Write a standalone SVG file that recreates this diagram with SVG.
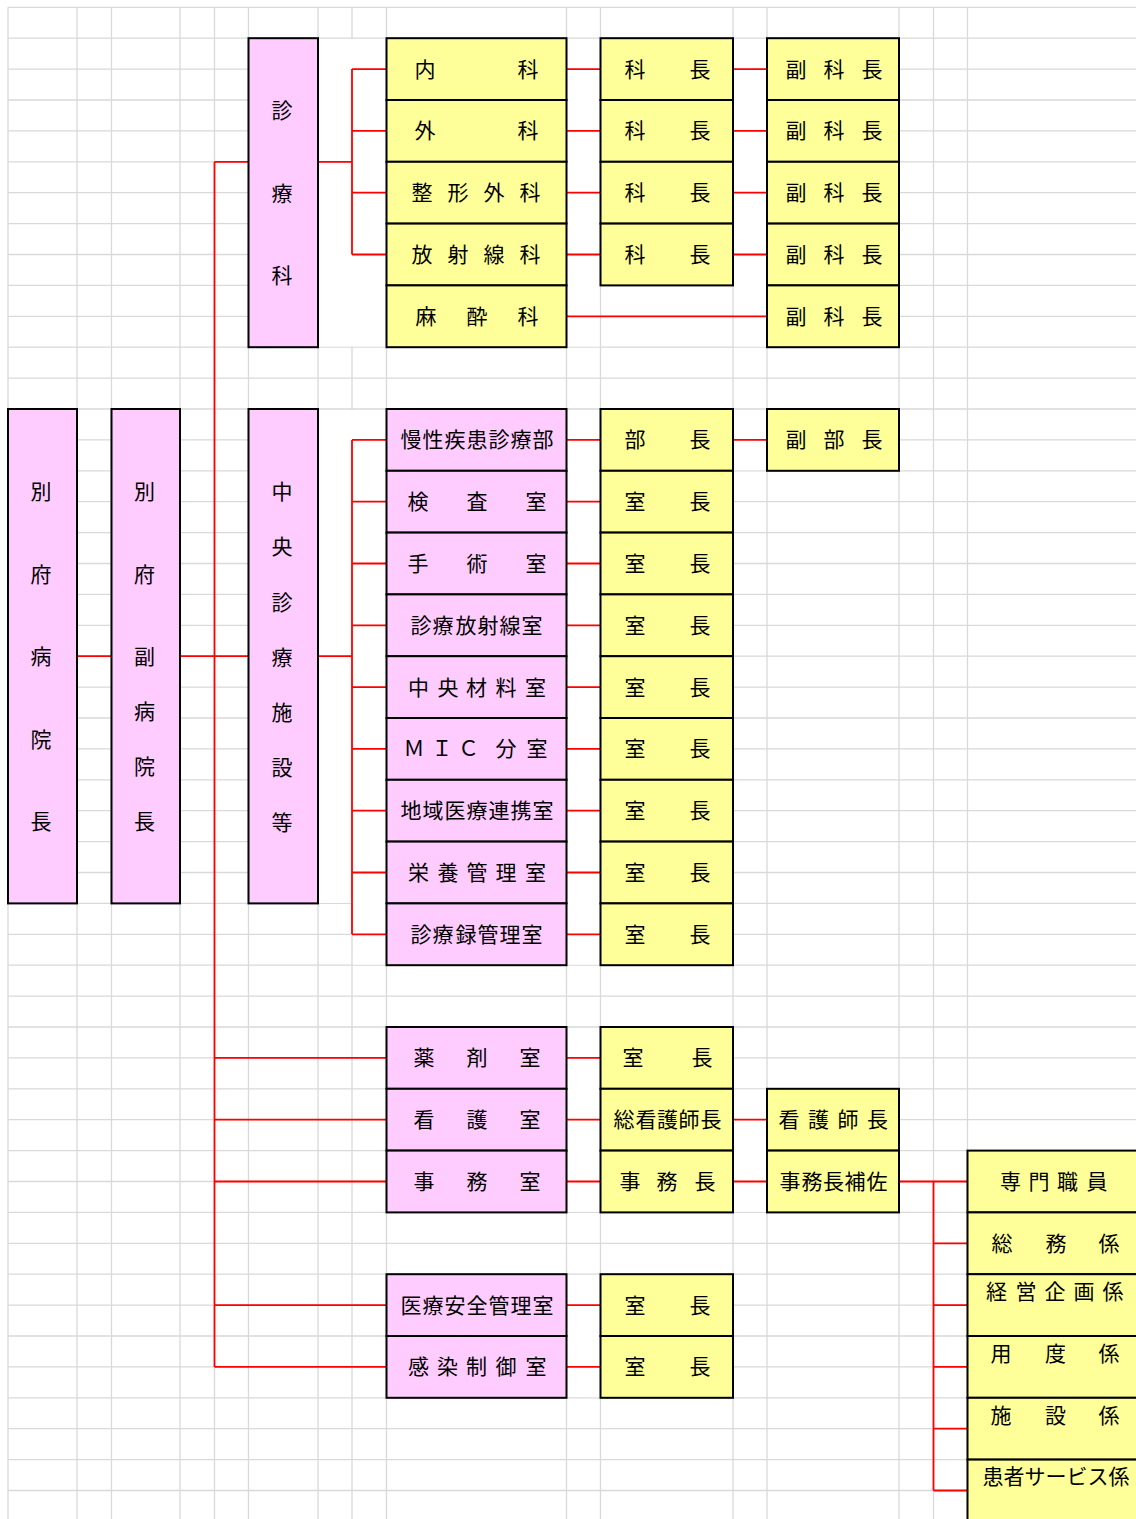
<svg xmlns="http://www.w3.org/2000/svg" width="1136" height="1519" viewBox="0 0 1136 1519">
<style>
.grid{fill:none;stroke:#d9d9d9;stroke-width:1.3}
.wh{fill:#ffffff;stroke:none}
.con{fill:none;stroke:#ff0000;stroke-width:1.8}
.pk{fill:#ffccff;stroke:#000000;stroke-width:2}
.yl{fill:#ffff99;stroke:#000000;stroke-width:2}
text{font-family:"Noto Sans CJK JP","Noto Sans",sans-serif;font-size:21px;fill:#000000;text-anchor:middle}
</style>
<rect x="0" y="0" width="1136" height="1519" fill="#ffffff"/>
<path class="grid" d="M8 7.3H1136M8 38.2H1136M8 69.1H1136M8 100H1136M8 130.9H1136M8 161.8H1136M8 192.7H1136M8 223.6H1136M8 254.5H1136M8 285.4H1136M8 316.3H1136M8 347.2H1136M8 378.1H1136M8 409H1136M8 439.9H1136M8 470.8H1136M8 501.7H1136M8 532.6H1136M8 563.5H1136M8 594.4H1136M8 625.3H1136M8 656.2H1136M8 687.1H1136M8 718H1136M8 748.9H1136M8 779.8H1136M8 810.7H1136M8 841.6H1136M8 872.5H1136M8 903.4H1136M8 934.3H1136M8 965.2H1136M8 996.1H1136M8 1027H1136M8 1057.9H1136M8 1088.8H1136M8 1119.7H1136M8 1150.6H1136M8 1181.5H1136M8 1212.4H1136M8 1243.3H1136M8 1274.2H1136M8 1305.1H1136M8 1336H1136M8 1366.9H1136M8 1397.8H1136M8 1428.7H1136M8 1459.6H1136M8 1490.5H1136M8 7.3V1519M77 7.3V1519M111.5 7.3V1519M180 7.3V1519M214.5 7.3V1519M248.5 7.3V1519M318 7.3V1519M352 7.3V1519M386.5 7.3V1519M566.5 7.3V1519M600.5 7.3V1519M733 7.3V1519M767 7.3V1519M899 7.3V1519M933.5 7.3V1519M967.5 7.3V1519"/>
<g id="blank-cells">
<rect class="wh" x="319" y="39" width="66.5" height="307.5"/>
<rect class="wh" x="567.5" y="39" width="32" height="307.5"/>
<rect class="wh" x="734" y="39" width="32" height="307.5"/>
<rect class="wh" x="319" y="410" width="66.5" height="492.8"/>
<rect class="wh" x="353" y="902" width="32.5" height="62.5"/>
<rect class="wh" x="567.5" y="410" width="32" height="554.5"/>
<rect class="wh" x="734" y="410" width="32" height="60.2"/>
<rect class="wh" x="567.5" y="1028" width="32" height="183.7"/>
<rect class="wh" x="734" y="1089.6" width="32" height="122.1"/>
<rect class="wh" x="567.5" y="1275" width="32" height="122.1"/>
</g>
<g id="connectors">
<path class="con" d="M77 656.2H111.5M180 656.2H248.5M214.5 161.8V1366.9M214.5 161.8H248.5"/>
<path class="con" d="M318 161.8H352M352 69.1V254.5M352 69.1H386.5M352 130.9H386.5M352 192.7H386.5M352 254.5H386.5"/>
<path class="con" d="M566.5 69.1H600.5M733 69.1H767M566.5 130.9H600.5M733 130.9H767M566.5 192.7H600.5M733 192.7H767M566.5 254.5H600.5M733 254.5H767M566.5 316.3H767"/>
<path class="con" d="M318 656.2H352M352 439.9V934.3M352 439.9H386.5M352 501.7H386.5M352 563.5H386.5M352 625.3H386.5M352 687.1H386.5M352 748.9H386.5M352 810.7H386.5M352 872.5H386.5M352 934.3H386.5"/>
<path class="con" d="M566.5 439.9H600.5M733 439.9H767M566.5 501.7H600.5M566.5 563.5H600.5M566.5 625.3H600.5M566.5 687.1H600.5M566.5 748.9H600.5M566.5 810.7H600.5M566.5 872.5H600.5M566.5 934.3H600.5"/>
<path class="con" d="M214.5 1057.9H386.5M214.5 1119.7H386.5M214.5 1181.5H386.5M214.5 1305.1H386.5M214.5 1366.9H386.5"/>
<path class="con" d="M566.5 1057.9H600.5M566.5 1119.7H600.5M566.5 1181.5H600.5M566.5 1305.1H600.5M566.5 1366.9H600.5M733 1119.7H767M733 1181.5H767"/>
<path class="con" d="M899 1181.5H967.5M933.5 1181.5V1490.5M933.5 1243.3H967.5M933.5 1305.1H967.5M933.5 1366.9H967.5M933.5 1428.7H967.5M933.5 1490.5H967.5"/>
</g>
<g id="n-byouinchou"><rect class="pk" x="8" y="409" width="69" height="494.4"/><text x="41" y="498.5">別</text><text x="41" y="582">府</text><text x="41" y="664">病</text><text x="41" y="746.5">院</text><text x="41" y="829">長</text></g>
<g id="n-fukubyouinchou"><rect class="pk" x="111.5" y="409" width="68.5" height="494.4"/><text x="144.5" y="498.5">別</text><text x="144.5" y="582">府</text><text x="144.5" y="664">副</text><text x="144.5" y="719">病</text><text x="144.5" y="774">院</text><text x="144.5" y="829">長</text></g>
<g id="n-shinryoka"><rect class="pk" x="248.5" y="38.2" width="69.5" height="309"/><text x="282" y="118">診</text><text x="282" y="200.5">療</text><text x="282" y="283">科</text></g>
<g id="n-chuou"><rect class="pk" x="248.5" y="409" width="69.5" height="494.4"/><text x="282" y="499">中</text><text x="282" y="554">央</text><text x="282" y="609.5">診</text><text x="282" y="664.5">療</text><text x="282" y="719.5">施</text><text x="282" y="775">設</text><text x="282" y="830">等</text></g>
<g id="n-naika"><rect class="yl" x="386.5" y="38.2" width="180" height="61.8"/><text x="425 528" y="76.6">内科</text></g>
<g id="n-geka"><rect class="yl" x="386.5" y="100" width="180" height="61.8"/><text x="425 528" y="138.4">外科</text></g>
<g id="n-seikei"><rect class="yl" x="386.5" y="161.8" width="180" height="61.8"/><text x="422 458 494 530" y="200.2">整形外科</text></g>
<g id="n-houshasen"><rect class="yl" x="386.5" y="223.6" width="180" height="61.8"/><text x="422 458 494 530" y="262">放射線科</text></g>
<g id="n-masui"><rect class="yl" x="386.5" y="285.4" width="180" height="61.8"/><text x="426 477 528" y="323.8">麻酔科</text></g>
<g id="n-kachou1"><rect class="yl" x="600.5" y="38.2" width="132.5" height="61.8"/><text x="635 700" y="76.6">科長</text></g>
<g id="n-kachou2"><rect class="yl" x="600.5" y="100" width="132.5" height="61.8"/><text x="635 700" y="138.4">科長</text></g>
<g id="n-kachou3"><rect class="yl" x="600.5" y="161.8" width="132.5" height="61.8"/><text x="635 700" y="200.2">科長</text></g>
<g id="n-kachou4"><rect class="yl" x="600.5" y="223.6" width="132.5" height="61.8"/><text x="635 700" y="262">科長</text></g>
<g id="n-fukukachou1"><rect class="yl" x="767" y="38.2" width="132" height="61.8"/><text x="796 834 872" y="76.6">副科長</text></g>
<g id="n-fukukachou2"><rect class="yl" x="767" y="100" width="132" height="61.8"/><text x="796 834 872" y="138.4">副科長</text></g>
<g id="n-fukukachou3"><rect class="yl" x="767" y="161.8" width="132" height="61.8"/><text x="796 834 872" y="200.2">副科長</text></g>
<g id="n-fukukachou4"><rect class="yl" x="767" y="223.6" width="132" height="61.8"/><text x="796 834 872" y="262">副科長</text></g>
<g id="n-fukukachou5"><rect class="yl" x="767" y="285.4" width="132" height="61.8"/><text x="796 834 872" y="323.8">副科長</text></g>
<g id="n-mansei"><rect class="pk" x="386.5" y="409" width="180" height="61.8"/><text x="411 433 455 477 499 521 543" y="447.4">慢性疾患診療部</text></g>
<g id="n-kensa"><rect class="pk" x="386.5" y="470.8" width="180" height="61.8"/><text x="418 477 536" y="509.2">検査室</text></g>
<g id="n-shujutsu"><rect class="pk" x="386.5" y="532.6" width="180" height="61.8"/><text x="418 477 536" y="571">手術室</text></g>
<g id="n-shinryouhoushasen"><rect class="pk" x="386.5" y="594.4" width="180" height="61.8"/><text x="421 443 466 488 510 532" y="632.8">診療放射線室</text></g>
<g id="n-chuouzairyou"><rect class="pk" x="386.5" y="656.2" width="180" height="61.8"/><text x="418.5 448 476.5 506 535.5" y="694.6">中央材料室</text></g>
<g id="n-mic"><rect class="pk" x="386.5" y="718" width="180" height="61.8"/><text x="414 442 468.5 506 537" y="756.4">ＭＩＣ分室</text></g>
<g id="n-chiiki"><rect class="pk" x="386.5" y="779.8" width="180" height="61.8"/><text x="411 433 455 477 499 521 543" y="818.2">地域医療連携室</text></g>
<g id="n-eiyou"><rect class="pk" x="386.5" y="841.6" width="180" height="61.8"/><text x="418.5 448 477 506 535.5" y="880">栄養管理室</text></g>
<g id="n-shinryouroku"><rect class="pk" x="386.5" y="903.4" width="180" height="61.8"/><text x="421 443 466 488 510 532" y="941.8">診療録管理室</text></g>
<g id="n-buchou"><rect class="yl" x="600.5" y="409" width="132.5" height="61.8"/><text x="635 700" y="447.4">部長</text></g>
<g id="n-shitsuchou1"><rect class="yl" x="600.5" y="470.8" width="132.5" height="61.8"/><text x="635 700" y="509.2">室長</text></g>
<g id="n-shitsuchou2"><rect class="yl" x="600.5" y="532.6" width="132.5" height="61.8"/><text x="635 700" y="571">室長</text></g>
<g id="n-shitsuchou3"><rect class="yl" x="600.5" y="594.4" width="132.5" height="61.8"/><text x="635 700" y="632.8">室長</text></g>
<g id="n-shitsuchou4"><rect class="yl" x="600.5" y="656.2" width="132.5" height="61.8"/><text x="635 700" y="694.6">室長</text></g>
<g id="n-shitsuchou5"><rect class="yl" x="600.5" y="718" width="132.5" height="61.8"/><text x="635 700" y="756.4">室長</text></g>
<g id="n-shitsuchou6"><rect class="yl" x="600.5" y="779.8" width="132.5" height="61.8"/><text x="635 700" y="818.2">室長</text></g>
<g id="n-shitsuchou7"><rect class="yl" x="600.5" y="841.6" width="132.5" height="61.8"/><text x="635 700" y="880">室長</text></g>
<g id="n-shitsuchou8"><rect class="yl" x="600.5" y="903.4" width="132.5" height="61.8"/><text x="635 700" y="941.8">室長</text></g>
<g id="n-fukubuchou"><rect class="yl" x="767" y="409" width="132" height="61.8"/><text x="796 834 872" y="447.4">副部長</text></g>
<g id="n-yakuzai"><rect class="pk" x="386.5" y="1027" width="180" height="61.8"/><text x="424 477 530" y="1065.4">薬剤室</text></g>
<g id="n-kango"><rect class="pk" x="386.5" y="1088.8" width="180" height="61.8"/><text x="424 477 530" y="1127.2">看護室</text></g>
<g id="n-jimu"><rect class="pk" x="386.5" y="1150.6" width="180" height="61.8"/><text x="424 477 530" y="1189">事務室</text></g>
<g id="n-iryouanzen"><rect class="pk" x="386.5" y="1274.2" width="180" height="61.8"/><text x="411 433 455 477 499 521 543" y="1312.6">医療安全管理室</text></g>
<g id="n-kansen"><rect class="pk" x="386.5" y="1336" width="180" height="61.8"/><text x="418.5 447.5 476.5 506 536" y="1374.4">感染制御室</text></g>
<g id="n-shitsuchou9"><rect class="yl" x="600.5" y="1027" width="132.5" height="61.8"/><text x="633 702" y="1065.4">室長</text></g>
<g id="n-soukangoshichou"><rect class="yl" x="600.5" y="1088.8" width="132.5" height="61.8"/><text x="624 646 667.5 689 711" y="1127.2">総看護師長</text></g>
<g id="n-jimuchou"><rect class="yl" x="600.5" y="1150.6" width="132.5" height="61.8"/><text x="630 667 705" y="1189">事務長</text></g>
<g id="n-shitsuchou10"><rect class="yl" x="600.5" y="1274.2" width="132.5" height="61.8"/><text x="635 700" y="1312.6">室長</text></g>
<g id="n-shitsuchou11"><rect class="yl" x="600.5" y="1336" width="132.5" height="61.8"/><text x="635 700" y="1374.4">室長</text></g>
<g id="n-kangoshichou"><rect class="yl" x="767" y="1088.8" width="132" height="61.8"/><text x="789 818.5 848 877.5" y="1127.2">看護師長</text></g>
<g id="n-jimuchouhosa"><rect class="yl" x="767" y="1150.6" width="132" height="61.8"/><text x="790 812 833.5 855 877" y="1189">事務長補佐</text></g>
<g id="n-senmon"><rect class="yl" x="967.5" y="1150.6" width="175" height="61.8"/><text x="1010.5 1039 1067.5 1097" y="1189">専門職員</text></g>
<g id="n-soumu"><rect class="yl" x="967.5" y="1212.4" width="175" height="61.8"/><text x="1002 1056 1109" y="1251">総務係</text></g>
<g id="n-keiei"><rect class="yl" x="967.5" y="1274.2" width="175" height="61.8"/><text x="996.5 1026 1055 1084 1113" y="1298.5">経営企画係</text></g>
<g id="n-youdo"><rect class="yl" x="967.5" y="1336" width="175" height="61.8"/><text x="1001 1055.5 1109" y="1360.5">用度係</text></g>
<g id="n-shisetsu"><rect class="yl" x="967.5" y="1397.8" width="175" height="61.8"/><text x="1001 1055.5 1109" y="1422.5">施設係</text></g>
<g id="n-kanja"><rect class="yl" x="967.5" y="1459.6" width="175" height="70"/><text x="993 1014 1035 1056 1077 1098 1119" y="1484">患者サービス係</text></g>
</svg>
